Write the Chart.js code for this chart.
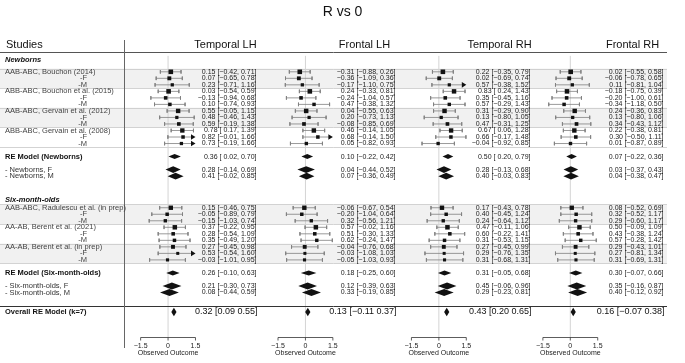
<!DOCTYPE html>
<html><head><meta charset="utf-8">
<script src="https://cdn.jsdelivr.net/npm/chart.js@4/dist/chart.umd.min.js"></script>
<style>html,body{margin:0;padding:0;background:#fff}#wrap{width:685px;height:363px;position:relative}canvas{display:block}</style>
</head><body><div id="wrap"><canvas id="c" width="685" height="363"></canvas></div>
<script>
// ---------------- DATA ----------------
const chartTitle = 'R vs 0';
const panelTitles = ['Temporal LH','Frontal LH','Temporal RH','Frontal RH'];
const newbornStudies = ['AAB-ABC, Bouchon (2014)','ABB-ABC, Bouchon et al. (2015)','AAB-ABC, Gervain et al. (2012)','ABB-ABC, Gervain et al. (2008)'];
const sixStudies = ['AAB-ABC, Radulescu et al. (in prep)','AA-AB, Berent et al. (2021)','AA-AB, Berent et al. (in prep)'];
const subLabels = ['-F','-M'];
const reLabels = ['RE Model (Newborns)','- Newborns, F','- Newborns, M','RE Model (Six-month-olds)','- Six-month-olds, F','- Six-month-olds, M','Overall RE Model (k=7)'];
const groupLabels = ['Newborns','Six-month-olds'];
const xTicks = [-1.5, 0, 1.5];
const xTickLabels = ['\u22121.5','0','1.5'];
const xAxisTitle = 'Observed Outcome';

// study rows: 12 newborn rows then 9 six-month-old rows
const tlhEst=[0.15,0.07,0.23,0.03,-0.13,0.10,0.55,0.48,0.59,0.78,0.82,0.73, 0.15,-0.05,-0.15,0.37,0.28,0.35,0.27,0.53,-0.03];
const tlhLo=[-0.42,-0.65,-0.71,-0.54,-0.94,-0.74,-0.05,-0.46,-0.19,0.17,-0.01,-0.19, -0.46,-0.89,-1.03,-0.22,-0.54,-0.49,-0.45,-0.54,-1.01];
const tlhHi=[0.71,0.78,1.16,0.59,0.68,0.93,1.15,1.43,1.38,1.39,1.66,1.66, 0.75,0.79,0.74,0.95,1.09,1.20,0.98,1.60,0.95];
const tlhReEst=[0.36,0.28,0.41,0.26,0.21,0.08,0.32];
const tlhReLo=[0.02,-0.14,-0.02,-0.10,-0.30,-0.44,0.09];
const tlhReHi=[0.70,0.69,0.85,0.63,0.73,0.59,0.55];

const flhEst=[-0.31,-0.36,-0.17,0.24,-0.24,0.47,0.04,0.20,-0.08,0.46,0.68,0.05, -0.06,-0.20,0.32,0.57,0.51,0.62,-0.04,-0.03,-0.05];
const flhLo=[-0.88,-1.09,-1.10,-0.33,-1.04,-0.38,-0.55,-0.73,-0.85,-0.14,-0.14,-0.82, -0.67,-1.04,-0.56,-0.02,-0.30,-0.24,-0.76,-1.08,-1.03];
const flhHi=[0.26,0.36,0.75,0.81,0.57,1.32,0.63,1.13,0.69,1.05,1.50,0.93, 0.54,0.64,1.21,1.16,1.33,1.47,0.68,1.03,0.93];
const flhReEst=[0.10,0.04,0.07,0.18,0.12,0.33,0.13];
const flhReLo=[-0.22,-0.44,-0.36,-0.25,-0.39,-0.19,-0.11];
const flhReHi=[0.42,0.52,0.49,0.60,0.63,0.85,0.37];

const trhEst=[0.22,0.02,0.57,0.83,0.35,0.57,0.31,0.13,0.47,0.67,0.66,-0.04, 0.17,0.40,0.24,0.47,0.60,0.31,0.27,0.29,0.31];
const trhLo=[-0.35,-0.69,-0.38,0.24,-0.45,-0.29,-0.29,-0.80,-0.31,0.06,-0.17,-0.92, -0.43,-0.45,-0.64,-0.11,-0.22,-0.53,-0.45,-0.76,-0.68];
const trhHi=[0.79,0.74,1.52,1.43,1.16,1.43,0.90,1.05,1.25,1.28,1.48,0.85, 0.78,1.24,1.12,1.06,1.41,1.15,0.99,1.35,1.31];
const trhReEst=[0.50,0.28,0.40,0.31,0.45,0.29,0.43];
const trhReLo=[0.20,-0.13,-0.03,-0.05,-0.06,-0.23,0.20];
const trhReHi=[0.79,0.68,0.83,0.68,0.96,0.81,0.65];

const frhEst=[0.02,-0.06,0.11,-0.18,-0.20,-0.34,0.24,0.13,0.34,0.22,0.30,0.01, 0.08,0.32,0.29,0.50,0.43,0.57,0.29,0.27,0.31];
const frhLo=[-0.55,-0.78,-0.81,-0.75,-1.00,-1.18,-0.36,-0.80,-0.43,-0.38,-0.50,-0.87, -0.52,-0.52,-0.60,-0.09,-0.38,-0.28,-0.43,-0.81,-0.69];
const frhHi=[0.58,0.65,1.04,0.39,0.61,0.50,0.83,1.06,1.12,0.81,1.11,0.89, 0.69,1.17,1.17,1.09,1.24,1.42,1.01,1.34,1.31];
const frhReEst=[0.07,0.03,0.04,0.30,0.35,0.40,0.16];
const frhReLo=[-0.22,-0.37,-0.38,-0.07,-0.16,-0.12,-0.07];
const frhReHi=[0.36,0.43,0.47,0.66,0.87,0.92,0.38];

const panels = [
  {est:tlhEst, lo:tlhLo, hi:tlhHi, reEst:tlhReEst, reLo:tlhReLo, reHi:tlhReHi},
  {est:flhEst, lo:flhLo, hi:flhHi, reEst:flhReEst, reLo:flhReLo, reHi:flhReHi},
  {est:trhEst, lo:trhLo, hi:trhHi, reEst:trhReEst, reLo:trhReLo, reHi:trhReHi},
  {est:frhEst, lo:frhLo, hi:frhHi, reEst:frhReEst, reLo:frhReLo, reHi:frhReHi}
];

// ---------------- LAYOUT ----------------
const W = 685, H = 363;
const ALIM = 1.5;
const zeroPx = [166, 305, 440, 573];
const unitPx = 18.5;
const ROW = 6.667;
const nbTop = 66, sxTop = 205;
const nNb = 12, nSx = 9;
function studyY(i){ return i < nNb ? nbTop + ROW*(i+0.5) : sxTop + ROW*(i-nNb+0.5); }
const nbLast = nbTop + ROW*(nNb-0.5), sxLast = sxTop + ROW*(nSx-0.5);
const reY = [nbLast+2*ROW, nbLast+4*ROW, nbLast+5*ROW, sxLast+2*ROW, sxLast+4*ROW, sxLast+5*ROW, sxLast+8*ROW];
const blackLineY = sxLast + 7*ROW;
const axisY = 341;
const textRight = zeroPx.map(z => z + 90.5);
const FONT = '"Liberation Sans", Arial, Helvetica, sans-serif';

function fmt(v){ const s = Math.abs(v).toFixed(2); return v < 0 ? '\u2212'+s : s; }
function fmtPad(v){ return v < 0 ? fmt(v) : ' '+fmt(v); }

// ---------------- DATASETS ----------------
const datasets = [];
panels.forEach((p, pi) => {
  const xid = 'x'+pi;
  const wh = [];
  const gap = {x:null, y:null};
  const widths = p.hi.map((h,i)=>h-p.lo[i]);
  const inv = widths.map(w=>1/w);
  const mn = Math.min(...inv), mx = Math.max(...inv);
  const radii = inv.map(v => (3.0 + 1.6*(v-mn)/(mx-mn)) / Math.SQRT2);
  p.est.forEach((e,i)=>{
    const y = studyY(i), lo = p.lo[i], hi = p.hi[i];
    const arrow = hi >= ALIM;
    wh.push({x:lo,y:y-1.8},{x:lo,y:y+1.8},gap);
    wh.push({x:lo,y},{x:arrow?ALIM-0.1:hi,y},gap);
    if(!arrow) wh.push({x:hi,y:y-1.8},{x:hi,y:y+1.8},gap);
  });
  datasets.push({type:'scatter', xAxisID:xid, yAxisID:'y', data:wh, showLine:true, spanGaps:false,
    borderColor:'#808080', borderWidth:0.8, pointRadius:0, order:2});
  datasets.push({type:'scatter', xAxisID:xid, yAxisID:'y',
    data:p.est.map((e,i)=>({x:e, y:studyY(i)})),
    pointStyle:'rect', pointRadius:radii, backgroundColor:'#111', borderWidth:0, order:1});
});

const scales = {y:{type:'linear', display:false, min:0, max:H, reverse:true}};
zeroPx.forEach((z,pi)=>{
  scales['x'+pi] = {type:'linear', display:false, min:-z/unitPx, max:(W-z)/unitPx};
});

// ---------------- DECORATION PLUGIN ----------------
const forestPlugin = {
  id:'forest',
  beforeDatasetsDraw(chart){
    const ctx = chart.ctx, ys = chart.scales.y;
    ctx.save();
    const bands = [[nbTop,0],[nbTop,2],[sxTop,0],[sxTop,2]];
    ctx.fillStyle = '#f1f1f1';
    bands.forEach(([top,g])=>{
      const y0 = ys.getPixelForValue(top + g*3*ROW), y1 = ys.getPixelForValue(top + (g+1)*3*ROW);
      ctx.fillRect(0, y0, 667, y1-y0);
    });
    ctx.strokeStyle = '#c8c8c8'; ctx.lineWidth = 0.8;
    const seps = [];
    for(let g=0; g<=4; g++) seps.push(nbTop + g*3*ROW);
    for(let g=0; g<=3; g++) seps.push(sxTop + g*3*ROW);
    seps.forEach(v=>{ const y = Math.round(ys.getPixelForValue(v))+0.5; ctx.beginPath(); ctx.moveTo(0,y); ctx.lineTo(667,y); ctx.stroke(); });
    ctx.strokeStyle = '#d4d4d4'; ctx.lineWidth = 1;
    zeroPx.forEach((z,pi)=>{
      const x = chart.scales['x'+pi].getPixelForValue(0);
      ctx.beginPath(); ctx.moveTo(x, ys.getPixelForValue(53)); ctx.lineTo(x, ys.getPixelForValue(axisY)); ctx.stroke();
    });
    ctx.strokeStyle = '#555'; ctx.lineWidth = 1;
    ctx.beginPath(); ctx.moveTo(0, 52.5); ctx.lineTo(667, 52.5); ctx.stroke();
    ctx.strokeStyle = '#333';
    const by = Math.round(ys.getPixelForValue(blackLineY))+0.5;
    ctx.beginPath(); ctx.moveTo(0, by); ctx.lineTo(667, by); ctx.stroke();
    ctx.strokeStyle = '#666';
    ctx.beginPath(); ctx.moveTo(124.5, 40); ctx.lineTo(124.5, 348); ctx.stroke();
    ctx.restore();
  },
  afterDatasetsDraw(chart){
    const ctx = chart.ctx, ys = chart.scales.y;
    ctx.save();
    ctx.textBaseline = 'middle';
    ctx.fillStyle = '#111'; ctx.font = '14px '+FONT; ctx.textAlign = 'center';
    ctx.fillText(chartTitle, 342.5, 12);
    ctx.font = '11px '+FONT; ctx.textAlign = 'left';
    ctx.fillText('Studies', 6, 45);
    ctx.textAlign = 'center';
    panelTitles.forEach((t,pi)=> ctx.fillText(t, textRight[pi]-31, 45));
    ctx.font = 'italic bold 7.5px '+FONT; ctx.textAlign = 'left'; ctx.fillStyle = '#111';
    ctx.fillText(groupLabels[0], 5, ys.getPixelForValue(57.5));
    ctx.fillText(groupLabels[1], 5, ys.getPixelForValue(200));
    const allStudies = newbornStudies.concat(sixStudies);
    allStudies.forEach((s,k)=>{
      const base = k*3;
      ctx.font = '7.5px '+FONT; ctx.fillStyle = '#444'; ctx.textAlign = 'left';
      ctx.fillText(s, 5, ys.getPixelForValue(studyY(base)));
      ctx.textAlign = 'right';
      subLabels.forEach((l,j)=> ctx.fillText(l, 87, ys.getPixelForValue(studyY(base+1+j))));
    });
    reLabels.forEach((l,k)=>{
      const bold = (k===0 || k===3 || k===6);
      ctx.font = (bold?'bold ':'') + '7.5px '+FONT; ctx.fillStyle = bold ? '#111' : '#333';
      ctx.textAlign = 'left';
      ctx.fillText(l, 5, ys.getPixelForValue(reY[k]));
    });
    panels.forEach((p,pi)=>{
      const xs = chart.scales['x'+pi];
      ctx.fillStyle = '#111';
      p.est.forEach((e,i)=>{
        if(p.hi[i] >= ALIM){
          const xt = xs.getPixelForValue(ALIM), y = ys.getPixelForValue(studyY(i));
          ctx.beginPath(); ctx.moveTo(xt, y); ctx.lineTo(xt-4.5, y-2.8); ctx.lineTo(xt-4.5, y+2.8); ctx.closePath(); ctx.fill();
        }
      });
      p.reEst.forEach((e,k)=>{
        const y = ys.getPixelForValue(reY[k]);
        ctx.fillStyle = '#111';
        ctx.beginPath();
        if(k === 6){
          const xc = xs.getPixelForValue(e);
          ctx.moveTo(xc-2.6, y); ctx.lineTo(xc, y-4.3); ctx.lineTo(xc+2.6, y); ctx.lineTo(xc, y+4.3);
        } else {
          const h = (k===0||k===3) ? 2.5 : 3.4;
          ctx.moveTo(xs.getPixelForValue(p.reLo[k]), y);
          ctx.lineTo(xs.getPixelForValue(e), y-h);
          ctx.lineTo(xs.getPixelForValue(p.reHi[k]), y);
          ctx.lineTo(xs.getPixelForValue(e), y+h);
        }
        ctx.closePath(); ctx.fill();
      });
      ctx.textAlign = 'right'; ctx.fillStyle = '#222'; ctx.font = '7px '+FONT;
      p.est.forEach((e,i)=>{
        ctx.fillText(fmt(e)+' ['+fmtPad(p.lo[i])+', '+fmt(p.hi[i])+']', textRight[pi], ys.getPixelForValue(studyY(i)));
      });
      p.reEst.forEach((e,k)=>{
        if(k===6){
          ctx.font = '9px '+FONT; ctx.fillStyle = '#111';
          ctx.fillText(fmt(e)+' ['+fmt(p.reLo[k])+' '+fmt(p.reHi[k])+']', textRight[pi]+1, ys.getPixelForValue(reY[k]-1));
        } else {
          ctx.font = '7px '+FONT; ctx.fillStyle = '#222';
          ctx.fillText(fmt(e)+' ['+fmtPad(p.reLo[k])+', '+fmt(p.reHi[k])+']', textRight[pi], ys.getPixelForValue(reY[k]));
        }
      });
      const ay = Math.round(ys.getPixelForValue(axisY))+0.5;
      ctx.strokeStyle = '#333'; ctx.lineWidth = 0.8;
      ctx.beginPath(); ctx.moveTo(xs.getPixelForValue(xTicks[0]), ay); ctx.lineTo(xs.getPixelForValue(xTicks[xTicks.length-1]), ay); ctx.stroke();
      ctx.font = '7px '+FONT; ctx.fillStyle = '#222'; ctx.textAlign = 'center';
      xTicks.forEach((t,j)=>{
        const x = xs.getPixelForValue(t);
        ctx.beginPath(); ctx.moveTo(x, ay); ctx.lineTo(x, ay+3); ctx.stroke();
        ctx.fillText(xTickLabels[j], x, ay+8.5);
      });
      ctx.fillText(xAxisTitle, xs.getPixelForValue(0), ay+15.5);
    });
    ctx.restore();
  }
};

new Chart(document.getElementById('c'), {
  type:'scatter',
  data:{datasets},
  options:{
    responsive:false, animation:false, devicePixelRatio:1,
    layout:{padding:0},
    plugins:{legend:{display:false}, tooltip:{enabled:false}, title:{display:false}},
    scales
  },
  plugins:[forestPlugin]
});
</script>
</body></html>
